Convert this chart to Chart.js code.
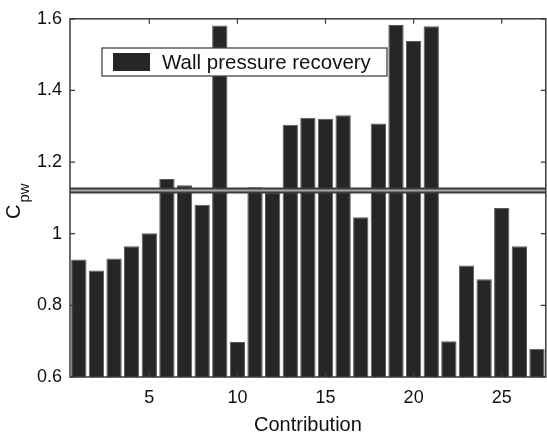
<!DOCTYPE html>
<html>
<head>
<meta charset="utf-8">
<script src="https://cdn.jsdelivr.net/npm/chart.js@4"></script>
<style>
  html, body { margin: 0; padding: 0; background: #fff; }
  #wrap { width: 547px; height: 439px; }
</style>
</head>
<body>
<div id="wrap"><canvas id="canvas" width="547" height="439"></canvas></div>
<script>
// contribution index 1..27
const categories = [1,2,3,4,5,6,7,8,9,10,11,12,13,14,15,16,17,18,19,20,21,22,23,24,25,26,27];
// C_pw per contribution
const cpw = [0.928, 0.897, 0.931, 0.965, 1.001, 1.153, 1.135, 1.081, 1.581, 0.698,
             1.130, 1.116, 1.304, 1.324, 1.321, 1.331, 1.046, 1.308, 1.583, 1.538,
             1.579, 0.700, 0.911, 0.873, 1.072, 0.965, 0.679];
// horizontal reference level across the plot
const refLevel = 1.121;
const refSpan = [0.5, 27.5];
const yTicks = [0.6, 0.8, 1, 1.2, 1.4, 1.6];
const xTickLabels = [5, 10, 15, 20, 25];
const legendLabel = 'Wall pressure recovery';
const xTitle = 'Contribution';

const FONT = '"Liberation Sans", Arial, sans-serif';

// frame, inward ticks, legend and axis titles (MATLAB look)
const matlabFrame = {
  id: 'matlabFrame',
  afterDraw(chart) {
    const ctx = chart.ctx;
    const a = chart.chartArea;
    const xs = chart.scales.x, ys = chart.scales.y;
    ctx.save();
    ctx.strokeStyle = '#3a3a3a';
    ctx.lineWidth = 1.5;
    ctx.strokeRect(a.left, a.top, a.right - a.left, a.bottom - a.top);
    ctx.lineWidth = 1.2;
    ctx.beginPath();
    xTickLabels.forEach(function(v) {
      const px = xs.getPixelForValue(categories.indexOf(v));
      ctx.moveTo(px, a.bottom); ctx.lineTo(px, a.bottom - 5);
      ctx.moveTo(px, a.top); ctx.lineTo(px, a.top + 5);
    });
    yTicks.forEach(function(v) {
      const py = ys.getPixelForValue(v);
      ctx.moveTo(a.left, py); ctx.lineTo(a.left + 5, py);
      ctx.moveTo(a.right, py); ctx.lineTo(a.right - 5, py);
    });
    ctx.stroke();

    // legend box
    ctx.fillStyle = '#fff';
    ctx.fillRect(102, 48, 285, 28);
    ctx.strokeStyle = '#444';
    ctx.lineWidth = 1.3;
    ctx.strokeRect(102, 48, 285, 28);
    ctx.fillStyle = '#262626';
    ctx.fillRect(113, 53, 37, 18);
    ctx.fillStyle = '#111';
    ctx.font = '20.5px ' + FONT;
    ctx.textBaseline = 'middle';
    ctx.textAlign = 'left';
    ctx.fillText(legendLabel, 162, 63);

    // x title
    ctx.font = '20px ' + FONT;
    ctx.textAlign = 'center';
    ctx.fillText(xTitle, (a.left + a.right) / 2, 425);

    // y title C_pw, rotated
    ctx.translate(20, 219);
    ctx.rotate(-Math.PI / 2);
    ctx.textAlign = 'left';
    ctx.textBaseline = 'alphabetic';
    ctx.font = '20px ' + FONT;
    ctx.fillText('C', 0, 0);
    const w = ctx.measureText('C').width;
    ctx.font = '15px ' + FONT;
    ctx.fillText('pw', w + 2, 9);
    ctx.restore();
  }
};

const ctx = document.getElementById('canvas').getContext('2d');
const myChart = new Chart(ctx, {
  type: 'bar',
  data: {
    labels: categories,
    datasets: [{
      label: legendLabel,
      data: cpw,
      backgroundColor: '#262626',
      borderColor: '#5a5a5a',
      borderWidth: 1,
      grouped: false,
      barPercentage: 0.87,
      categoryPercentage: 1,
      order: 3
    }, {
      type: 'line',
      label: 'ref-edge',
      xAxisID: 'x2',
      data: refSpan.map(function(x) { return { x: x, y: refLevel }; }),
      borderColor: '#3c3c3c',
      borderWidth: 6,
      pointRadius: 0,
      order: 2
    }, {
      type: 'line',
      label: 'ref-core',
      xAxisID: 'x2',
      data: refSpan.map(function(x) { return { x: x, y: refLevel }; }),
      borderColor: '#a5a5a5',
      borderWidth: 2,
      pointRadius: 0,
      order: 1
    }]
  },
  options: {
    responsive: false,
    animation: false,
    layout: { padding: { top: 15, right: 1, left: 0, bottom: 0 } },
    plugins: {
      legend: { display: false },
      tooltip: { enabled: false }
    },
    scales: {
      x: {
        type: 'category',
        grid: { display: false, drawTicks: false },
        border: { display: false },
        ticks: {
          autoSkip: false,
          maxRotation: 0,
          padding: 10,
          color: '#111',
          font: { family: FONT, size: 18 },
          callback: function(val, i) {
            return xTickLabels.includes(categories[i]) ? String(categories[i]) : '';
          }
        },
        afterFit: function(s) { s.height = 62; }
      },
      x2: {
        type: 'linear',
        display: false,
        offset: false,
        min: refSpan[0],
        max: refSpan[1]
      },
      y: {
        min: 0.6,
        max: 1.6,
        grid: { display: false, drawTicks: false },
        border: { display: false },
        afterBuildTicks: function(s) {
          s.ticks = yTicks.map(function(v) { return { value: v }; });
        },
        ticks: {
          padding: 8,
          color: '#111',
          font: { family: FONT, size: 18 },
          callback: function(v) { return String(+v.toFixed(1)); }
        },
        afterFit: function(s) { s.width = 70; }
      }
    }
  },
  plugins: [matlabFrame]
});
</script>
</body>
</html>
